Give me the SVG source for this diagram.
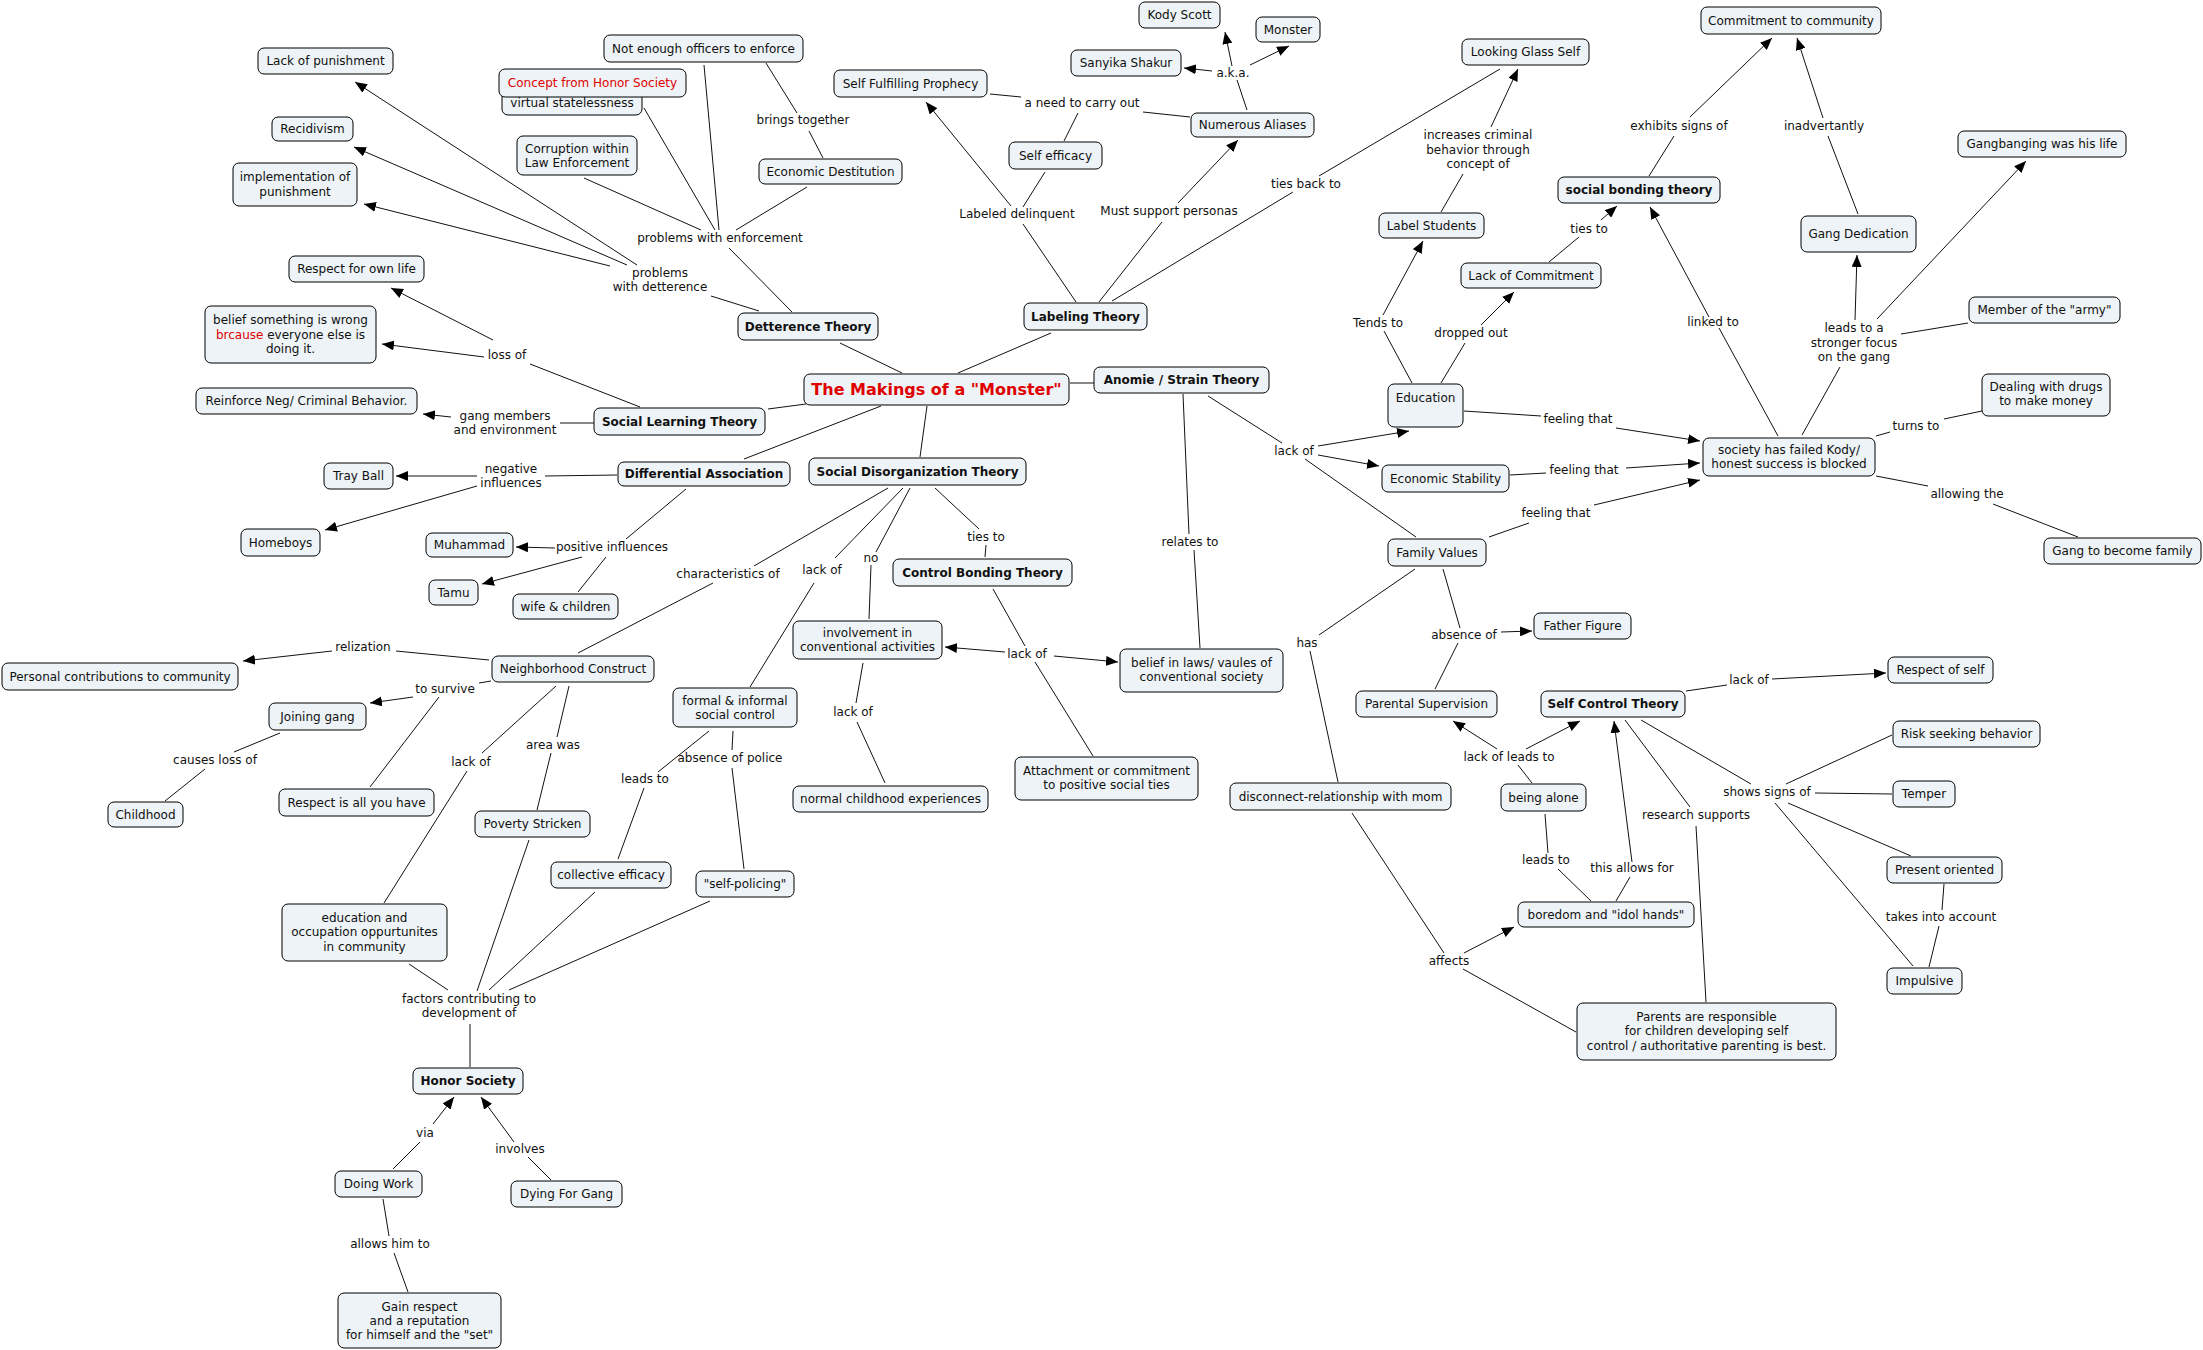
<svg xmlns="http://www.w3.org/2000/svg" width="2203" height="1350" viewBox="0 0 2203 1350">
<style>
.n rect{fill:#edf3f6;stroke:#000;stroke-width:1}
text{font-family:"DejaVu Sans",Verdana,sans-serif;font-size:12px;fill:#111;text-anchor:middle}
.b{font-weight:bold}
.red{fill:#e00000}
.c line{stroke:#111;stroke-width:1}
.c line.a{marker-end:url(#ah)}
</style>
<defs>
<marker id="ah" markerUnits="userSpaceOnUse" markerWidth="12" markerHeight="10" refX="12" refY="5" orient="auto"><path d="M0,0 L12,5 L0,10 z" fill="#000"/></marker>
</defs>
<rect width="2203" height="1350" fill="#fff"/>
<g class="c" id="connectors">
<line x1="637" y1="265" x2="355" y2="82" class="a"/>
<line x1="627" y1="265" x2="354" y2="147" class="a"/>
<line x1="610" y1="266" x2="364" y2="204" class="a"/>
<line x1="711" y1="296" x2="759" y2="311"/>
<line x1="729" y1="248" x2="792" y2="312"/>
<line x1="704" y1="65" x2="719" y2="230"/>
<line x1="766" y1="63" x2="797" y2="113"/>
<line x1="809" y1="131" x2="823" y2="158"/>
<line x1="644" y1="108" x2="715" y2="230"/>
<line x1="584" y1="178" x2="701" y2="230"/>
<line x1="807" y1="187" x2="736" y2="230"/>
<line x1="840" y1="343" x2="902" y2="373"/>
<line x1="1051" y1="333" x2="958" y2="373"/>
<line x1="1076" y1="302" x2="1023" y2="224"/>
<line x1="1011" y1="206" x2="926" y2="102" class="a"/>
<line x1="1023" y1="207" x2="1045" y2="172"/>
<line x1="990" y1="94" x2="1021" y2="97"/>
<line x1="1078" y1="113" x2="1064" y2="141"/>
<line x1="1143" y1="112" x2="1190" y2="117"/>
<line x1="1247" y1="110" x2="1237" y2="80"/>
<line x1="1232" y1="66" x2="1225" y2="32" class="a"/>
<line x1="1250" y1="65" x2="1289" y2="46" class="a"/>
<line x1="1212" y1="71" x2="1184" y2="68" class="a"/>
<line x1="1099" y1="302" x2="1162" y2="222"/>
<line x1="1178" y1="203" x2="1238" y2="140" class="a"/>
<line x1="1112" y1="301" x2="1293" y2="192"/>
<line x1="1319" y1="176" x2="1500" y2="69"/>
<line x1="768" y1="409" x2="806" y2="404"/>
<line x1="881" y1="406" x2="744" y2="459"/>
<line x1="927" y1="406" x2="920" y2="457"/>
<line x1="1070" y1="383" x2="1094" y2="383"/>
<line x1="530" y1="364" x2="640" y2="407"/>
<line x1="493" y1="340" x2="391" y2="288" class="a"/>
<line x1="484" y1="357" x2="382" y2="344" class="a"/>
<line x1="594" y1="423" x2="560" y2="423"/>
<line x1="451" y1="417" x2="423" y2="414" class="a"/>
<line x1="617" y1="475" x2="545" y2="476"/>
<line x1="477" y1="476" x2="396" y2="476" class="a"/>
<line x1="477" y1="486" x2="325" y2="530" class="a"/>
<line x1="686" y1="489" x2="626" y2="539"/>
<line x1="555" y1="548" x2="516" y2="547" class="a"/>
<line x1="582" y1="557" x2="482" y2="584" class="a"/>
<line x1="606" y1="557" x2="578" y2="592"/>
<line x1="888" y1="488" x2="754" y2="566"/>
<line x1="713" y1="583" x2="578" y2="653"/>
<line x1="903" y1="488" x2="835" y2="558"/>
<line x1="814" y1="583" x2="750" y2="687"/>
<line x1="910" y1="488" x2="876" y2="552"/>
<line x1="871" y1="565" x2="869" y2="619"/>
<line x1="935" y1="488" x2="979" y2="529"/>
<line x1="986" y1="545" x2="985" y2="557"/>
<line x1="993" y1="589" x2="1025" y2="646"/>
<line x1="1005" y1="652" x2="945" y2="647" class="a"/>
<line x1="1054" y1="656" x2="1118" y2="662" class="a"/>
<line x1="1035" y1="662" x2="1093" y2="756"/>
<line x1="863" y1="663" x2="856" y2="703"/>
<line x1="857" y1="722" x2="885" y2="783"/>
<line x1="733" y1="731" x2="732" y2="750"/>
<line x1="732" y1="768" x2="744" y2="869"/>
<line x1="709" y1="731" x2="658" y2="772"/>
<line x1="644" y1="788" x2="618" y2="859"/>
<line x1="489" y1="660" x2="396" y2="651"/>
<line x1="332" y1="651" x2="243" y2="661" class="a"/>
<line x1="491" y1="681" x2="479" y2="683"/>
<line x1="413" y1="697" x2="370" y2="703" class="a"/>
<line x1="439" y1="697" x2="370" y2="787"/>
<line x1="280" y1="733" x2="234" y2="752"/>
<line x1="205" y1="769" x2="165" y2="801"/>
<line x1="556" y1="686" x2="482" y2="753"/>
<line x1="467" y1="771" x2="384" y2="903"/>
<line x1="569" y1="686" x2="557" y2="737"/>
<line x1="551" y1="753" x2="537" y2="810"/>
<line x1="529" y1="840" x2="477" y2="991"/>
<line x1="595" y1="892" x2="489" y2="990"/>
<line x1="710" y1="901" x2="509" y2="990"/>
<line x1="409" y1="964" x2="448" y2="990"/>
<line x1="470" y1="1024" x2="470" y2="1067"/>
<line x1="393" y1="1169" x2="420" y2="1142"/>
<line x1="433" y1="1124" x2="454" y2="1097" class="a"/>
<line x1="551" y1="1180" x2="528" y2="1157"/>
<line x1="514" y1="1142" x2="481" y2="1097" class="a"/>
<line x1="383" y1="1199" x2="389" y2="1236"/>
<line x1="394" y1="1253" x2="408" y2="1292"/>
<line x1="1208" y1="396" x2="1282" y2="443"/>
<line x1="1318" y1="446" x2="1409" y2="431" class="a"/>
<line x1="1318" y1="455" x2="1379" y2="466" class="a"/>
<line x1="1305" y1="459" x2="1416" y2="537"/>
<line x1="1183" y1="394" x2="1189" y2="534"/>
<line x1="1194" y1="550" x2="1200" y2="648"/>
<line x1="1412" y1="383" x2="1384" y2="331"/>
<line x1="1383" y1="315" x2="1423" y2="241" class="a"/>
<line x1="1441" y1="212" x2="1463" y2="174"/>
<line x1="1491" y1="127" x2="1518" y2="69" class="a"/>
<line x1="1441" y1="383" x2="1465" y2="343"/>
<line x1="1481" y1="325" x2="1514" y2="292" class="a"/>
<line x1="1549" y1="262" x2="1579" y2="237"/>
<line x1="1601" y1="220" x2="1617" y2="206" class="a"/>
<line x1="1464" y1="411" x2="1541" y2="416"/>
<line x1="1616" y1="428" x2="1700" y2="441" class="a"/>
<line x1="1510" y1="475" x2="1546" y2="473"/>
<line x1="1626" y1="468" x2="1700" y2="463" class="a"/>
<line x1="1489" y1="537" x2="1529" y2="523"/>
<line x1="1594" y1="505" x2="1700" y2="480" class="a"/>
<line x1="1649" y1="176" x2="1674" y2="136"/>
<line x1="1690" y1="117" x2="1772" y2="38" class="a"/>
<line x1="1858" y1="214" x2="1828" y2="136"/>
<line x1="1823" y1="118" x2="1797" y2="38" class="a"/>
<line x1="1778" y1="436" x2="1719" y2="328"/>
<line x1="1709" y1="317" x2="1650" y2="207" class="a"/>
<line x1="1802" y1="435" x2="1840" y2="367"/>
<line x1="1855" y1="320" x2="1857" y2="255" class="a"/>
<line x1="1877" y1="319" x2="2026" y2="161" class="a"/>
<line x1="1968" y1="323" x2="1901" y2="334"/>
<line x1="1876" y1="436" x2="1890" y2="432"/>
<line x1="1944" y1="419" x2="1982" y2="411"/>
<line x1="1876" y1="476" x2="1928" y2="486"/>
<line x1="1993" y1="504" x2="2078" y2="537"/>
<line x1="1415" y1="569" x2="1319" y2="635"/>
<line x1="1310" y1="651" x2="1338" y2="782"/>
<line x1="1443" y1="569" x2="1460" y2="628"/>
<line x1="1501" y1="632" x2="1532" y2="631" class="a"/>
<line x1="1458" y1="643" x2="1435" y2="689"/>
<line x1="1532" y1="783" x2="1518" y2="765"/>
<line x1="1497" y1="749" x2="1453" y2="721" class="a"/>
<line x1="1526" y1="749" x2="1580" y2="721" class="a"/>
<line x1="1545" y1="814" x2="1548" y2="853"/>
<line x1="1558" y1="869" x2="1591" y2="901"/>
<line x1="1616" y1="901" x2="1630" y2="877"/>
<line x1="1632" y1="862" x2="1614" y2="721" class="a"/>
<line x1="1352" y1="813" x2="1444" y2="953"/>
<line x1="1464" y1="953" x2="1514" y2="927" class="a"/>
<line x1="1463" y1="969" x2="1576" y2="1032"/>
<line x1="1686" y1="691" x2="1727" y2="685"/>
<line x1="1772" y1="679" x2="1886" y2="673" class="a"/>
<line x1="1641" y1="720" x2="1751" y2="784"/>
<line x1="1786" y1="784" x2="1892" y2="735"/>
<line x1="1815" y1="793" x2="1892" y2="794"/>
<line x1="1788" y1="803" x2="1911" y2="856"/>
<line x1="1775" y1="803" x2="1913" y2="966"/>
<line x1="1625" y1="720" x2="1690" y2="807"/>
<line x1="1696" y1="826" x2="1706" y2="1002"/>
<line x1="1944" y1="884" x2="1942" y2="910"/>
<line x1="1939" y1="926" x2="1929" y2="967"/>
</g>
<g id="labels">
<text x="660" y="277">problems</text><text x="660" y="291">with detterence</text>
<text x="720" y="242">problems with enforcement</text>
<text x="803" y="124">brings together</text>
<text x="1017" y="218">Labeled delinquent</text>
<text x="1082" y="107">a need to carry out</text>
<text x="1233" y="77">a.k.a.</text>
<text x="1169" y="215">Must support personas</text>
<text x="1306" y="188">ties back to</text>
<text x="507" y="359">loss of</text>
<text x="505" y="420">gang members</text><text x="505" y="434">and environment</text>
<text x="511" y="473">negative</text><text x="511" y="487">influences</text>
<text x="612" y="551">positive influences</text>
<text x="728" y="578">characteristics of</text>
<text x="822" y="574">lack of</text>
<text x="871" y="562">no</text>
<text x="986" y="541">ties to</text>
<text x="1027" y="658">lack of</text>
<text x="853" y="716">lack of</text>
<text x="730" y="762">absence of police</text>
<text x="645" y="783">leads to</text>
<text x="363" y="651">relization</text>
<text x="445" y="693">to survive</text>
<text x="215" y="764">causes loss of</text>
<text x="471" y="766">lack of</text>
<text x="553" y="749">area was</text>
<text x="469" y="1003">factors contributing to</text><text x="469" y="1017">development of</text>
<text x="425" y="1137">via</text>
<text x="520" y="1153">involves</text>
<text x="390" y="1248">allows him to</text>
<text x="1190" y="546">relates to</text>
<text x="1294" y="455">lack of</text>
<text x="1378" y="327">Tends to</text>
<text x="1471" y="337">dropped out</text>
<text x="1478" y="139">increases criminal</text><text x="1478" y="154">behavior through</text><text x="1478" y="168">concept of</text>
<text x="1589" y="233">ties to</text>
<text x="1578" y="423">feeling that</text>
<text x="1584" y="474">feeling that</text>
<text x="1556" y="517">feeling that</text>
<text x="1679" y="130">exhibits signs of</text>
<text x="1824" y="130">inadvertantly</text>
<text x="1713" y="326">linked to</text>
<text x="1854" y="332">leads to a</text><text x="1854" y="347">stronger focus</text><text x="1854" y="361">on the gang</text>
<text x="1916" y="430">turns to</text>
<text x="1967" y="498">allowing the</text>
<text x="1307" y="647">has</text>
<text x="1464" y="639">absence of</text>
<text x="1509" y="761">lack of leads to</text>
<text x="1546" y="864">leads to</text>
<text x="1632" y="872">this allows for</text>
<text x="1449" y="965">affects</text>
<text x="1749" y="684">lack of</text>
<text x="1767" y="796">shows signs of</text>
<text x="1696" y="819">research supports</text>
<text x="1941" y="921">takes into account</text>
</g>
<g id="lack_punish" class="n"><rect x="258" y="48" width="135" height="26" rx="6"/><text x="325.5" y="65">Lack of punishment</text></g>
<g id="virtual" class="n"><rect x="502" y="89" width="140" height="26" rx="6"/><text x="572" y="107">virtual statelessness</text></g>
<g id="concept_honor" class="n"><rect x="499" y="69" width="187" height="28" rx="6"/><text x="592.5" y="87" class="red">Concept from Honor Society</text></g>
<g id="recidivism" class="n"><rect x="272" y="117" width="81" height="24" rx="6"/><text x="312.5" y="133">Recidivism</text></g>
<g id="implementation" class="n"><rect x="233" y="163" width="124" height="43" rx="6"/><text x="295" y="181">implementation of</text><text x="295" y="196">punishment</text></g>
<g id="corruption" class="n"><rect x="517" y="136" width="120" height="39" rx="6"/><text x="577" y="153">Corruption within</text><text x="577" y="167">Law Enforcement</text></g>
<g id="respect_own" class="n"><rect x="289" y="256" width="135" height="26" rx="6"/><text x="356.5" y="273">Respect for own life</text></g>
<g id="belief_wrong" class="n"><rect x="205" y="306" width="171" height="57" rx="6"/><text x="290.5" y="324">belief something is wrong</text><text x="290.5" y="339"><tspan class="red">brcause</tspan> everyone else is</text><text x="290.5" y="353">doing it.</text></g>
<g id="reinforce" class="n"><rect x="196" y="388" width="221" height="26" rx="6"/><text x="306.5" y="405">Reinforce Neg/ Criminal Behavior.</text></g>
<g id="not_enough" class="n"><rect x="604" y="35" width="199" height="27" rx="6"/><text x="703.5" y="52.5">Not enough officers to enforce</text></g>
<g id="self_fulfilling" class="n"><rect x="834" y="70" width="153" height="27" rx="6"/><text x="910.5" y="87.5">Self Fulfilling Prophecy</text></g>
<g id="econ_dest" class="n"><rect x="759" y="159" width="143" height="25" rx="6"/><text x="830.5" y="175.5">Economic Destitution</text></g>
<g id="self_efficacy" class="n"><rect x="1009" y="142" width="93" height="27" rx="6"/><text x="1055.5" y="159.5">Self efficacy</text></g>
<g id="detterence" class="n"><rect x="738" y="313" width="140" height="27" rx="6"/><text x="808" y="330.5" class="b">Detterence Theory</text></g>
<g id="labeling" class="n"><rect x="1024" y="303" width="123" height="27" rx="6"/><text x="1085.5" y="320.5" class="b">Labeling Theory</text></g>
<g id="makings" class="n"><rect x="804" y="374" width="265" height="31" rx="6"/><text x="936.5" y="395" class="b red" style="font-size:16px">The Makings of a "Monster"</text></g>
<g id="slt" class="n"><rect x="594" y="408" width="171" height="27" rx="6"/><text x="679.5" y="425.5" class="b">Social Learning Theory</text></g>
<g id="anomie" class="n"><rect x="1094" y="367" width="175" height="26" rx="6"/><text x="1181.5" y="384" class="b">Anomie / Strain Theory</text></g>
<g id="kody" class="n"><rect x="1139" y="2" width="81" height="26" rx="6"/><text x="1179.5" y="19">Kody Scott</text></g>
<g id="monster" class="n"><rect x="1256" y="17" width="64" height="25" rx="6"/><text x="1288" y="33.5">Monster</text></g>
<g id="sanyika" class="n"><rect x="1071" y="50" width="110" height="26" rx="6"/><text x="1126" y="67">Sanyika Shakur</text></g>
<g id="aliases" class="n"><rect x="1191" y="113" width="123" height="24" rx="6"/><text x="1252.5" y="129">Numerous Aliases</text></g>
<g id="looking_glass" class="n"><rect x="1462" y="39" width="127" height="26" rx="6"/><text x="1525.5" y="56">Looking Glass Self</text></g>
<g id="label_students" class="n"><rect x="1379" y="213" width="105" height="25" rx="6"/><text x="1431.5" y="229.5">Label Students</text></g>
<g id="lack_commit" class="n"><rect x="1461" y="263" width="140" height="25" rx="6"/><text x="1531" y="279.5">Lack of Commitment</text></g>
<g id="social_bonding" class="n"><rect x="1558" y="177" width="162" height="26" rx="6"/><text x="1639" y="194" class="b">social bonding theory</text></g>
<g id="education" class="n"><rect x="1388" y="384" width="75" height="43" rx="6"/><text x="1425.5" y="402">Education</text></g>
<g id="commitment_comm" class="n"><rect x="1701" y="7" width="180" height="27" rx="6"/><text x="1791" y="24.5">Commitment to community</text></g>
<g id="gangbanging" class="n"><rect x="1958" y="131" width="168" height="26" rx="6"/><text x="2042" y="148">Gangbanging was his life</text></g>
<g id="gang_dedication" class="n"><rect x="1801" y="216" width="115" height="36" rx="6"/><text x="1858.5" y="238">Gang Dedication</text></g>
<g id="member_army" class="n"><rect x="1969" y="297" width="151" height="26" rx="6"/><text x="2044.5" y="314">Member of the "army"</text></g>
<g id="dealing" class="n"><rect x="1982" y="374" width="128" height="42" rx="6"/><text x="2046" y="391">Dealing with drugs</text><text x="2046" y="405">to make money</text></g>
<g id="society_failed" class="n"><rect x="1703" y="438" width="172" height="38" rx="6"/><text x="1789" y="454">society has failed Kody/</text><text x="1789" y="468">honest success is blocked</text></g>
<g id="tray_ball" class="n"><rect x="324" y="463" width="69" height="26" rx="6"/><text x="358.5" y="480">Tray Ball</text></g>
<g id="homeboys" class="n"><rect x="241" y="529" width="79" height="27" rx="6"/><text x="280.5" y="546.5">Homeboys</text></g>
<g id="muhammad" class="n"><rect x="426" y="533" width="87" height="24" rx="6"/><text x="469.5" y="549">Muhammad</text></g>
<g id="tamu" class="n"><rect x="429" y="580" width="49" height="25" rx="6"/><text x="453.5" y="596.5">Tamu</text></g>
<g id="wife_children" class="n"><rect x="513" y="594" width="105" height="25" rx="6"/><text x="565.5" y="610.5">wife &amp; children</text></g>
<g id="personal_contrib" class="n"><rect x="2" y="663" width="236" height="27" rx="6"/><text x="120" y="680.5">Personal contributions to community</text></g>
<g id="neighborhood" class="n"><rect x="492" y="656" width="162" height="26" rx="6"/><text x="573" y="673">Neighborhood Construct</text></g>
<g id="joining_gang" class="n"><rect x="269" y="703" width="97" height="27" rx="6"/><text x="317.5" y="720.5">Joining gang</text></g>
<g id="respect_all" class="n"><rect x="279" y="789" width="155" height="27" rx="6"/><text x="356.5" y="806.5">Respect is all you have</text></g>
<g id="childhood" class="n"><rect x="108" y="802" width="75" height="25" rx="6"/><text x="145.5" y="818.5">Childhood</text></g>
<g id="poverty" class="n"><rect x="475" y="811" width="115" height="26" rx="6"/><text x="532.5" y="828">Poverty Stricken</text></g>
<g id="diff_assoc" class="n"><rect x="618" y="462" width="172" height="24" rx="6"/><text x="704" y="478" class="b">Differential Association</text></g>
<g id="sdt" class="n"><rect x="809" y="458" width="217" height="27" rx="6"/><text x="917.5" y="475.5" class="b">Social Disorganization Theory</text></g>
<g id="cbt" class="n"><rect x="893" y="559" width="179" height="27" rx="6"/><text x="982.5" y="576.5" class="b">Control Bonding Theory</text></g>
<g id="involvement" class="n"><rect x="793" y="621" width="149" height="38" rx="6"/><text x="867.5" y="637">involvement in</text><text x="867.5" y="651">conventional activities</text></g>
<g id="formal_control" class="n"><rect x="673" y="688" width="124" height="39" rx="6"/><text x="735" y="705">formal &amp; informal</text><text x="735" y="719">social control</text></g>
<g id="normal_child" class="n"><rect x="793" y="786" width="195" height="26" rx="6"/><text x="890.5" y="803">normal childhood experiences</text></g>
<g id="attachment" class="n"><rect x="1015" y="757" width="183" height="43" rx="6"/><text x="1106.5" y="775">Attachment or commitment</text><text x="1106.5" y="789">to positive social ties</text></g>
<g id="collective" class="n"><rect x="551" y="862" width="120" height="26" rx="6"/><text x="611" y="879">collective efficacy</text></g>
<g id="self_policing" class="n"><rect x="696" y="871" width="98" height="26" rx="6"/><text x="745" y="888">"self-policing"</text></g>
<g id="econ_stab" class="n"><rect x="1382" y="465" width="127" height="27" rx="6"/><text x="1445.5" y="482.5">Economic Stability</text></g>
<g id="family_values" class="n"><rect x="1388" y="539" width="98" height="27" rx="6"/><text x="1437" y="556.5">Family Values</text></g>
<g id="father" class="n"><rect x="1534" y="613" width="97" height="26" rx="6"/><text x="1582.5" y="630">Father Figure</text></g>
<g id="belief_laws" class="n"><rect x="1120" y="649" width="163" height="43" rx="6"/><text x="1201.5" y="667">belief in laws/ vaules of</text><text x="1201.5" y="681">conventional society</text></g>
<g id="parental" class="n"><rect x="1356" y="691" width="141" height="26" rx="6"/><text x="1426.5" y="708">Parental Supervision</text></g>
<g id="sct" class="n"><rect x="1541" y="691" width="144" height="26" rx="6"/><text x="1613" y="708" class="b">Self Control Theory</text></g>
<g id="disconnect" class="n"><rect x="1230" y="783" width="221" height="27" rx="6"/><text x="1340.5" y="800.5">disconnect-relationship with mom</text></g>
<g id="being_alone" class="n"><rect x="1501" y="784" width="85" height="27" rx="6"/><text x="1543.5" y="801.5">being alone</text></g>
<g id="gang_family" class="n"><rect x="2044" y="538" width="157" height="26" rx="6"/><text x="2122.5" y="555">Gang to become family</text></g>
<g id="respect_self" class="n"><rect x="1888" y="657" width="105" height="26" rx="6"/><text x="1940.5" y="674">Respect of self</text></g>
<g id="risk" class="n"><rect x="1893" y="721" width="147" height="26" rx="6"/><text x="1966.5" y="738">Risk seeking behavior</text></g>
<g id="temper" class="n"><rect x="1893" y="781" width="62" height="26" rx="6"/><text x="1924" y="798">Temper</text></g>
<g id="present" class="n"><rect x="1887" y="857" width="115" height="26" rx="6"/><text x="1944.5" y="874">Present oriented</text></g>
<g id="education_occ" class="n"><rect x="282" y="904" width="165" height="57" rx="6"/><text x="364.5" y="922">education and</text><text x="364.5" y="936">occupation oppurtunites</text><text x="364.5" y="951">in community</text></g>
<g id="honor" class="n"><rect x="413" y="1068" width="110" height="26" rx="6"/><text x="468" y="1085" class="b">Honor Society</text></g>
<g id="doing_work" class="n"><rect x="335" y="1171" width="87" height="26" rx="6"/><text x="378.5" y="1188">Doing Work</text></g>
<g id="dying" class="n"><rect x="511" y="1181" width="111" height="26" rx="6"/><text x="566.5" y="1198">Dying For Gang</text></g>
<g id="gain_respect" class="n"><rect x="338" y="1293" width="163" height="55" rx="6"/><text x="419.5" y="1311">Gain respect</text><text x="419.5" y="1325">and a reputation</text><text x="419.5" y="1339">for himself and the "set"</text></g>
<g id="boredom" class="n"><rect x="1518" y="902" width="176" height="25" rx="6"/><text x="1606" y="918.5">boredom and "idol hands"</text></g>
<g id="parents" class="n"><rect x="1577" y="1003" width="259" height="57" rx="6"/><text x="1706.5" y="1021">Parents are responsible</text><text x="1706.5" y="1035">for children developing self</text><text x="1706.5" y="1050">control / authoritative parenting is best.</text></g>
<g id="impulsive" class="n"><rect x="1887" y="968" width="75" height="26" rx="6"/><text x="1924.5" y="985">Impulsive</text></g>
</svg>
